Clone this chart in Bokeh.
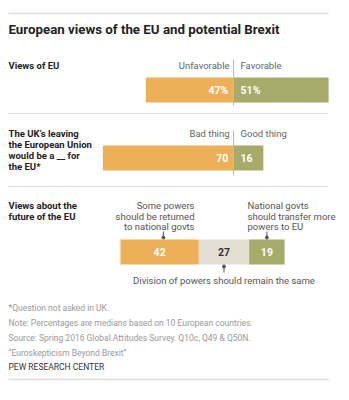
from bokeh.plotting import figure
from bokeh.models import Range1d, Label
from bokeh.core.properties import value
from bokeh.embed import file_html
from bokeh.resources import INLINE

# ---------------- data ----------------
title = "European views of the EU and potential Brexit"
row_titles = [
    ["Views of EU"],
    ["The UK\u2019s leaving", "the European Union", "would be a __ for", "the EU*"],
    ["Views about the", "future of the EU"],
]
eu_labels = ["Unfavorable", "Favorable"]
eu_values = [47, 51]
brexit_labels = ["Bad thing", "Good thing"]
brexit_values = [70, 16]
future_labels = [
    ["Some powers", "should be returned", "to national govts"],
    ["Division of powers should remain the same"],
    ["National govts", "should transfer more", "powers to EU"],
]
future_values = [42, 27, 19]
notes = [
    "*Question not asked in UK.",
    "Note: Percentages are medians based on 10 European countries.",
    "Source: Spring 2016 Global Attitudes Survey. Q10c, Q49 & Q50N.",
    "\u201cEuroskepticism Beyond Brexit\u201d",
]
credit = "PEW RESEARCH CENTER"

# ---------------- style / layout ----------------
W, H = 349, 400
ZERO_PX = 233.0
S = 1.865  # px per percentage point
ORANGE = "#EDAF57"
GREEN = "#A6AA6A"
BEIGE = "#E3DFD3"
FONT = "Roboto"
ROW3_START = -60.6  # left edge of third bar, in points relative to divider


def dx(px):
    return (px - ZERO_PX) / S


p = figure(width=W, height=H, output_backend="svg", toolbar_location=None,
           x_range=Range1d(dx(0), dx(W)), y_range=Range1d(H, 0),
           x_axis_type=None, y_axis_type=None, min_border=0)
p.grid.visible = False
p.outline_line_color = None
p.background_fill_color = "white"
p.border_fill_color = "white"


def label(x_px, y, text, size=9, color="#555555", bold=False, align="left", font=FONT):
    p.add_layout(Label(x=dx(x_px), y=y, text=text, text_font=font,
                       text_font_size=f"{size}px", text_color=color,
                       text_font_style="bold" if bold else "normal",
                       text_align=align, text_baseline="middle"))


# top / bottom rules
p.line([dx(8), dx(328)], [13, 13], line_color="#DDDDDD", line_width=1.5)
p.line([dx(8), dx(328)], [379, 379], line_color="#DDDDDD", line_width=1.5)

# title
label(8, 29, title, size=13.3, color="#222222", bold=True)

# row titles
for lines, y0 in zip(row_titles, [65, 133, 205]):
    for i, t in enumerate(lines):
        label(8, y0 + i * 11, t, size=9.5, color="#222222", bold=True)

# dotted separators
for y in [113, 186]:
    p.line([dx(8), dx(328)], [y, y], line_color="#BBBBBB", line_width=1, line_dash="1 1")

# ---- row 1 & 2: diverging bars ----
for labels_, vals, top, bottom, hdr_y, vtop, vbot, pct in [
    (eu_labels, eu_values, 77, 102, 65, 59, 105, True),
    (brexit_labels, brexit_values, 145, 170, 133, 130, 175, False),
]:
    neg, pos = vals
    p.quad(left=[-neg], right=[0], top=[top], bottom=[bottom], fill_color=ORANGE, line_color=None)
    p.quad(left=[0], right=[pos], top=[top], bottom=[bottom], fill_color=GREEN, line_color=None)
    p.line([0, 0], [vtop, vbot], line_color="#BBBBBB", line_width=1)
    label(229, hdr_y, labels_[0], size=9.5, color="#666666", align="right")
    label(240, hdr_y, labels_[1], size=9.5, color="#666666", align="left")
    suffix = "%" if pct else ""
    ymid = (top + bottom) / 2
    p.text(x=[-2.8], y=[ymid], text=[f"{neg}{suffix}"], text_font=value(FONT),
           text_font_size="10.5px", text_font_style="bold", text_color="white",
           text_align="right", text_baseline="middle")
    p.text(x=[3.8], y=[ymid], text=[f"{pos}{suffix}"], text_font=value(FONT),
           text_font_size="10.5px", text_font_style="bold", text_color="white",
           text_align="left", text_baseline="middle")

# ---- row 3: stacked bar ----
top3, bot3 = 239, 264
colors3 = [ORANGE, BEIGE, GREEN]
txtcol3 = ["white", "#333333", "white"]
lefts, rights = [], []
acc = ROW3_START
for v in future_values:
    lefts.append(acc)
    acc += v
    rights.append(acc)
p.quad(left=lefts, right=rights, top=[top3] * 3, bottom=[bot3] * 3,
       fill_color=colors3, line_color=None)
centers = [(l + r) / 2 for l, r in zip(lefts, rights)]
p.text(x=centers, y=[(top3 + bot3) / 2] * 3, text=[str(v) for v in future_values],
       text_font=value(FONT), text_font_size="10.5px", text_font_style="bold",
       text_color=txtcol3, text_align="center", text_baseline="middle")

# leaders
lead_x = [centers[0] + 2, centers[1], centers[2]]
p.segment(x0=[lead_x[0], lead_x[2]], y0=[231, 231], x1=[lead_x[0], lead_x[2]], y1=[238, 238],
          line_color="#555555", line_width=1)
p.scatter(x=[lead_x[0], lead_x[2]], y=[237, 237], size=3, color="#555555")
p.segment(x0=[lead_x[1]], y0=[265], x1=[lead_x[1]], y1=[272], line_color="#555555", line_width=1)
p.scatter(x=[lead_x[1]], y=[266], size=3, color="#555555")

for i, t in enumerate(future_labels[0]):
    label(194, 205 + i * 10.5, t, size=9.5, color="#555555", align="right")
for i, t in enumerate(future_labels[2]):
    label(247, 205 + i * 10.5, t, size=9.5, color="#555555", align="left")
p.add_layout(Label(x=lead_x[1], y=280, text=future_labels[1][0], text_font=FONT,
                   text_font_size="9.5px", text_color="#555555",
                   text_align="center", text_baseline="middle"))

# notes
for i, t in enumerate(notes):
    label(8, 307 + i * 15, t, size=8.5, color="#999999")
label(8, 366, credit, size=8.5, color="#333333")

open("out.html", "w").write(file_html(p, INLINE))
